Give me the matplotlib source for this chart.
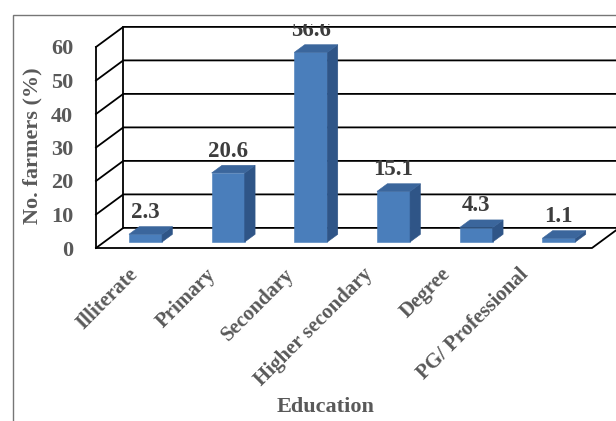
import numpy as np
import matplotlib
matplotlib.use('Agg')
import matplotlib.pyplot as plt
from matplotlib.patches import Polygon, Rectangle

plt.rcParams['font.family'] = ['Liberation Serif', 'DejaVu Serif']

categories = ['Illiterate', 'Primary', 'Secondary', 'Higher secondary', 'Degree', 'PG/ Professional']
farmers_pct = [2.3, 20.6, 56.6, 15.1, 4.3, 1.1]
y_ticks = [0, 10, 20, 30, 40, 50, 60]

#oblique offset of the 3-D box per unit of depth (data units)
DX, DY = 0.33, 6.0
d0, d1 = 0.30, 0.68   #front and back depth of the bars
half_w = 0.2

front_c = '#4a7ebb'
side_c = '#2f5587'
top_c = '#3b669c'
grey = '#595959'
dark = '#3d3d3d'

def proj(x, y, d):
    return (x + DX*d, y + DY*d)

W, H = 616, 421
fig = plt.figure(figsize=(W/100, H/100), dpi=100)
ax = fig.add_axes([96/W, (H-248)/H, 496/W, 201/H])
ax.set_xlim(-0.5, len(categories)-0.5)
ax.set_ylim(0, 60)
for s in ax.spines.values():
    s.set_visible(False)
ax.set_xticks([])
ax.set_yticks(y_ticks)
ax.tick_params(axis='y', length=0, pad=16.5, labelsize=16, labelcolor=grey)
for lab in ax.get_yticklabels():
    lab.set_fontweight('bold')

#walls and floor
x0, x1 = ax.get_xlim()
kw = dict(color='black', lw=1.3, clip_on=False, zorder=1)
for v in y_ticks:
    ax.plot([x0, x0+DX, x1+DX], [v, v+DY, v+DY], **kw)
ax.plot([x0, x0], [0, 60], **kw)
ax.plot([x0+DX, x0+DX], [DY, 60+DY], **kw)
ax.plot([x0, x1, x1+DX], [0, 0, DY], **kw)

#labels are cut off at the top of the plot area
clip = Rectangle((0, 0), 1, 1 - 24/H, transform=fig.transFigure)

#bars as prisms: front, side and top faces
for i, v in enumerate(farmers_pct):
    xl, xr = i - half_w, i + half_w
    bl, br = proj(xl, 0, d0), proj(xr, 0, d0)
    tl, tr = proj(xl, v, d0), proj(xr, v, d0)
    br2, tr2, tl2 = proj(xr, 0, d1), proj(xr, v, d1), proj(xl, v, d1)
    for pts, c in [([bl, br, tr, tl], front_c), ([br, br2, tr2, tr], side_c),
                   ([tl, tr, tr2, tl2], top_c)]:
        ax.add_patch(Polygon(pts, closed=True, fc=c, ec=c, lw=0.4, zorder=3, clip_on=False))
    t = ax.text(i + DX*d0, v + DY*d1 + 4.2, str(v), ha='center', va='center',
                fontsize=16.5, fontweight='bold', color=dark, zorder=4, clip_on=True)
    t.set_clip_path(clip)

#category labels along the floor
for i, cat in enumerate(categories):
    ax.text(-0.03 + 0.946*i, -7.0, cat, rotation=45, ha='right', va='center',
            rotation_mode='anchor', fontsize=15, fontweight='bold', color=grey, clip_on=False)

fig.text(32/W, 1 - 145.5/H, 'No. farmers (%)', rotation=90, ha='center', va='center',
         fontsize=16, fontweight='bold', color=grey)
fig.text(326/W, 1 - 407/H, 'Education', ha='center', va='center',
         fontsize=16, fontweight='bold', color=grey)

#chart frame
fig.patches.append(Rectangle((13/W, -0.1), 1, (H-15)/H + 0.1, transform=fig.transFigure,
                             fill=False, ec='#767676', lw=1.0))

fig.savefig('out.png', dpi=100)
